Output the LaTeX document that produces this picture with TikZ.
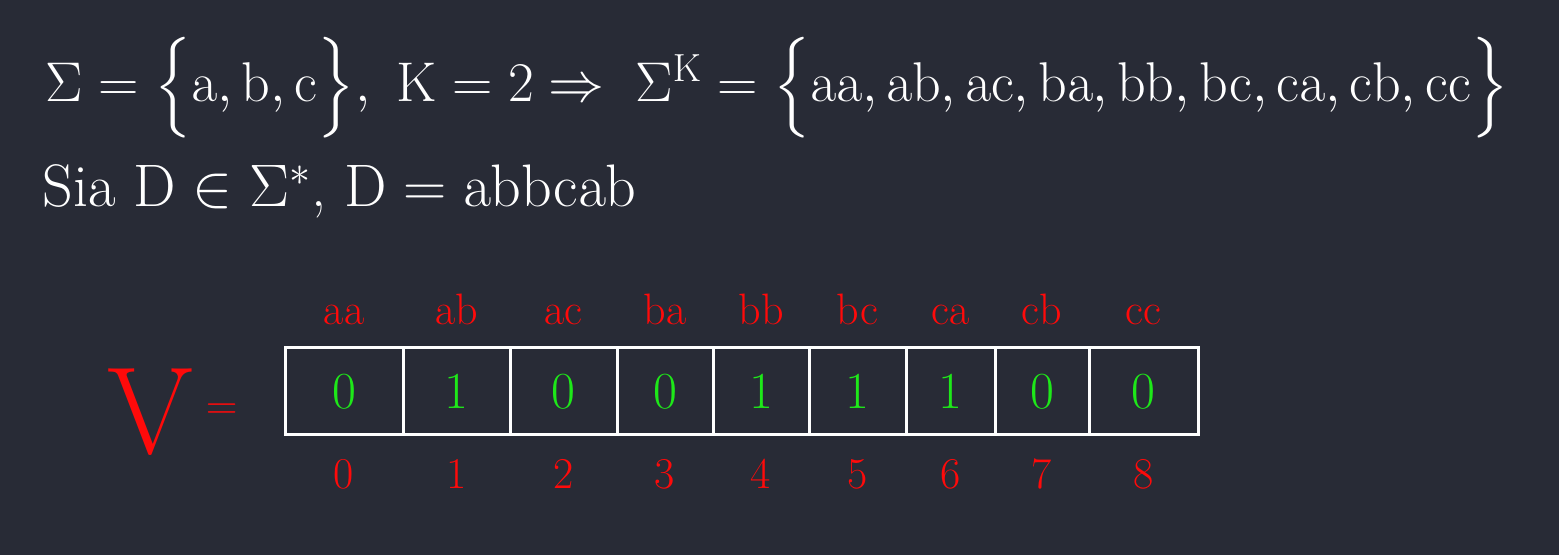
\RequirePackage{fix-cm}
\documentclass[tikz,border=0pt]{standalone}
\usepackage{amsmath,amssymb}
\usepackage{xcolor}
\usetikzlibrary{positioning}
\definecolor{board}{RGB}{40,43,54}
\definecolor{inkred}{RGB}{255,10,10}
\definecolor{inkgreen}{RGB}{30,232,25}

\begin{document}
\begin{tikzpicture}[x=0.5pt, y=-0.5pt,
  chalk/.style={text=white, inner sep=0pt, font=\fontsize{28}{34}\selectfont},
  kmer/.style={text=inkred, inner sep=0pt, font=\fontsize{22}{26}\selectfont},
  idx/.style={text=inkred, inner sep=0pt, font=\fontsize{22}{26}\selectfont},
  cell/.style={draw=white, line width=1.5pt, text=inkgreen, inner sep=0pt,
    minimum height=43.5pt, font=\fontsize{26}{30}\selectfont}]
\fill[board] (0,0) rectangle (1559,555);
\useasboundingbox (0,0) rectangle (1559,555);

% definizioni
\node[chalk, anchor=base west] at (45,102) (alph) {$\Sigma = \Bigl\{\mathrm{a}, \mathrm{b}, \mathrm{c}\Bigr\},\ \mathrm{K} = 2$};
\node[chalk, anchor=base] at (576,102) (impl) {$\Rightarrow$};
\node[chalk, anchor=base west] at (635,102) (kmers) {$\Sigma^{\mathrm{K}} = \Bigl\{\mathrm{aa}, \mathrm{ab}, \mathrm{ac}, \mathrm{ba}, \mathrm{bb}, \mathrm{bc}, \mathrm{ca}, \mathrm{cb}, \mathrm{cc}\Bigr\}$};
\node[chalk, anchor=base west, font=\fontsize{30}{36}\selectfont] at (42,207) (seq) {Sia $\mathrm{D} \in \Sigma^{*}$,\ $\mathrm{D} = \mathrm{abbcab}$};

% vettore V
\node[text=inkred, inner sep=0pt, font=\fontsize{62}{70}\selectfont] at (150,412) (V) {V};
\node[text=inkred, inner sep=0pt, font=\fontsize{22}{26}\selectfont, right=6pt of V] (eq) {$=$};
\foreach \l/\r/\b/\k [count=\i from 0] in {285/403/0/aa, 403/510/1/ab, 510/617/0/ac, 617/713/0/ba, 713/809/1/bb, 809/906/1/bc, 906/995/1/ca, 995/1089/0/cb, 1089/1198/0/cc} {
  \pgfmathsetmacro\w{(\r-\l)*0.5}
  \node[cell, minimum width=\w pt] at ({(\l+\r)/2},391.5) (c\i) {\b};
  \node[kmer, anchor=base] at ([yshift=11pt]c\i.north) (k\i) {\k};
  \node[idx, anchor=base] at ([yshift=-26pt]c\i.south) (n\i) {\i};
}
\end{tikzpicture}
\end{document}
